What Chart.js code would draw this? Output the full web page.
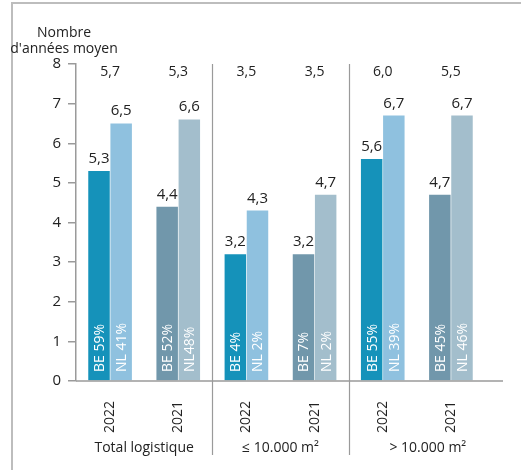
<!DOCTYPE html>
<html>
<head>
<meta charset="utf-8">
<script src="https://cdn.jsdelivr.net/npm/chart.js@4/dist/chart.umd.min.js"></script>
<style>
  html, body { margin:0; padding:0; background:#fff; }
  canvas { display:block; }
</style>
</head>
<body>
<canvas id="ageChart" width="521" height="470"></canvas>
<script>
// Gemiddelde leeftijd logistiek vastgoed — BE vs NL
var years    = ['2022','2021','2022','2021','2022','2021'];
var groups   = ['Total logistique', '\u2264 10.000 m\u00b2', '> 10.000 m\u00b2'];
var beVals   = [5.3, 4.4, 3.2, 3.2, 5.6, 4.7];
var nlVals   = [6.5, 6.6, 4.3, 4.7, 6.7, 6.7];
var totals   = [5.7, 5.3, 3.5, 3.5, 6.0, 5.5];
var beShare  = ['BE 59%','BE 52%','BE 4%','BE 7%','BE 55%','BE 45%'];
var nlShare  = ['NL 41%','NL48%','NL 2%','NL 2%','NL 39%','NL 46%'];

var FONT = '"Open Sans", "Noto Sans", sans-serif';
var INK = '#222';
var AXIS = '#9a9a9a';
var BE_COL = {'2022':'#1592ba', '2021':'#7197ab'};
var NL_COL = {'2022':'#8fc1df', '2021':'#a3becc'};
var GROUP_SHIFT = [0, 0, 11];

function fmt(v){ return v.toFixed(1).replace('.', ','); }

var overlay = {
  id:'overlay',
  afterDatasetsDraw: function(chart) {
    var ctx = chart.ctx, a = chart.chartArea, xs = chart.scales.x;
    ctx.save();
    // frame top + left
    ctx.strokeStyle = '#bdbdbd'; ctx.lineWidth = 2;
    ctx.beginPath(); ctx.moveTo(12, 470); ctx.lineTo(12, 3); ctx.lineTo(521, 3); ctx.stroke();

    // axis title
    ctx.fillStyle = INK; ctx.font = '14px ' + FONT; ctx.textAlign = 'center'; ctx.textBaseline = 'alphabetic';
    ctx.fillText('Nombre', 64, 37);
    ctx.fillText("d'ann\u00e9es moyen", 64, 53);

    // x baseline runs a bit past the last group
    ctx.strokeStyle = AXIS; ctx.lineWidth = 1.5;
    ctx.beginPath(); ctx.moveTo(a.left, a.bottom); ctx.lineTo(a.right + 18, a.bottom); ctx.stroke();

    // group separators
    ctx.lineWidth = 1.2;
    [1.5, 3.5].forEach(function(v){
      var x = Math.round(xs.getPixelForValue(v)) + 0.5;
      ctx.beginPath(); ctx.moveTo(x, a.top); ctx.lineTo(x, 455); ctx.stroke();
    });

    // group names
    ctx.fillStyle = INK; ctx.font = '14px ' + FONT; ctx.textAlign = 'center';
    groups.forEach(function(g, i){
      ctx.fillText(g, xs.getPixelForValue(i*2 + 0.5) + GROUP_SHIFT[i], 452);
    });

    // totals row on top
    totals.forEach(function(t, i){
      ctx.fillText(fmt(t), xs.getPixelForValue(i), a.top + 12);
    });

    // values above bars + shares inside bars
    var shares = [beShare, nlShare];
    chart.data.datasets.forEach(function(ds, di){
      var meta = chart.getDatasetMeta(di);
      meta.data.forEach(function(bar, i){
        ctx.fillStyle = INK; ctx.font = '15px ' + FONT; ctx.textAlign = 'center'; ctx.textBaseline = 'alphabetic';
        ctx.fillText(fmt(ds.data[i]), bar.x, bar.y - 8);
        ctx.save();
        ctx.translate(bar.x, a.bottom - 9);
        ctx.rotate(-Math.PI/2);
        ctx.fillStyle = '#fff'; ctx.font = '14px ' + FONT; ctx.textAlign = 'left'; ctx.textBaseline = 'middle';
        ctx.fillText(shares[di][i], 0, 1);
        ctx.restore();
      });
    });
    ctx.restore();
  }
};

new Chart(document.getElementById('ageChart'), {
  type:'bar',
  data:{labels:years, datasets:[
    {label:'BE', data:beVals, backgroundColor:years.map(function(y){return BE_COL[y];}), borderWidth:0},
    {label:'NL', data:nlVals, backgroundColor:years.map(function(y){return NL_COL[y];}), borderWidth:0}
  ]},
  options:{
    responsive:false, animation:false,
    layout:{padding:{top:64, right:36, left:0, bottom:0}},
    categoryPercentage:0.65, barPercentage:0.97,
    plugins:{legend:{display:false}, tooltip:{enabled:false}},
    scales:{
      x:{
        grid:{display:false}, border:{display:false},
        ticks:{color:INK, font:{family:FONT, size:14}, minRotation:90, maxRotation:90, padding:12},
        afterFit:function(s){ s.height = 89; }
      },
      y:{
        min:0, max:8,
        grid:{drawOnChartArea:false, drawTicks:true, tickLength:8, tickColor:AXIS, lineWidth:1.5},
        border:{color:AXIS, width:1.5},
        ticks:{stepSize:1, color:INK, font:{family:FONT, size:15}, padding:7},
        afterFit:function(s){ s.width = 76; }
      }
    }
  },
  plugins:[overlay]
});
</script>
</body>
</html>
